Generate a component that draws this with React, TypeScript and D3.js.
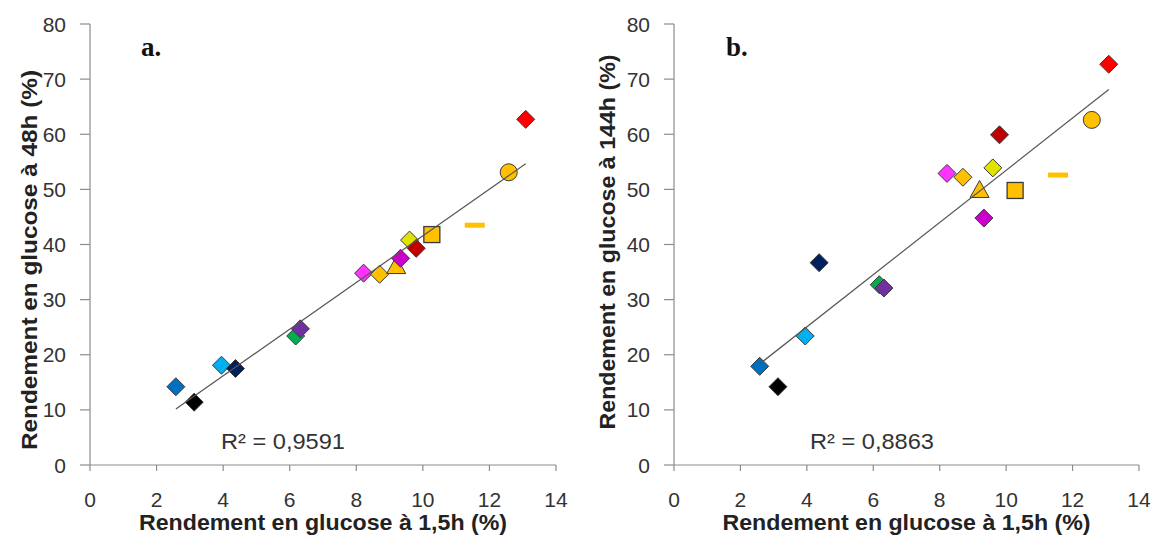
import React from "react";
import * as d3 from "d3";

// ---- data ----
const samples = ["s1", "s2", "s3", "s4", "s5", "s6", "s7", "s8", "s9", "s10", "s11", "s12", "s13", "s14", "s15", "s16"];
const glucose15h = [2.58, 3.13, 3.95, 4.37, 6.18, 6.32, 8.22, 8.7, 9.2, 9.33, 9.6, 9.8, 10.27, 11.56, 12.58, 13.09];
const glucose48h = [14.2, 11.4, 18.1, 17.5, 23.4, 24.7, 34.8, 34.6, 36.0, 37.5, 40.8, 39.3, 41.8, 43.5, 53.1, 62.7];
const glucose144h = [17.9, 14.2, 23.4, 36.7, 32.7, 32.1, 52.9, 52.2, 49.8, 44.8, 53.9, 59.9, 49.8, 52.6, 62.6, 72.7];
const r2Labels = ["R² = 0,9591", "R² = 0,8863"];
const panelLetters = ["a.", "b."];
const yTitles = ["Rendement en glucose à 48h (%)", "Rendement en glucose à 144h (%)"];
const xTitle = "Rendement en glucose à 1,5h (%)";
const xTicks = [0, 2, 4, 6, 8, 10, 12, 14];
const yTicks = [0, 10, 20, 30, 40, 50, 60, 70, 80];

// ---- styles ----
const markerColors = ["#0070C0", "#000000", "#00B0F0", "#002060", "#00B050", "#7030A0", "#FF33FF", "#FFC000", "#FFC000", "#CC00CC", "#E2E200", "#C00000", "#FFC000", "#FFC000", "#FFC000", "#FF0000"];
const markerShapes = ["diamond", "diamond", "diamond", "diamond", "diamond", "diamond", "diamond", "diamond", "triangle", "diamond", "diamond", "diamond", "square", "dash", "circle", "diamond"];

const FONT = "'Liberation Sans', Arial, sans-serif";
const AXIS = "#8c8c8c";

type PanelProps = {
  left: number; right: number; top: number; bottom: number;
  ys: number[]; letter: string; letterX: number; yTitle: string; yTitleX: number; yTitleY: number; yTitleLen: number;
  r2: string; r2X: number;
};

function linreg(xs: number[], ys: number[]) {
  const mx = d3.mean(xs)!, my = d3.mean(ys)!;
  let sxy = 0, sxx = 0;
  xs.forEach((x, i) => { sxy += (x - mx) * (ys[i] - my); sxx += (x - mx) * (x - mx); });
  const b = sxy / sxx;
  return { b, a: my - b * mx };
}

function Marker({ shape, cx, cy, fill }: { shape: string; cx: number; cy: number; fill: string }) {
  const stroke = "#3a3a3a";
  if (shape === "diamond") {
    const r = 9;
    return <path d={`M${cx},${cy - r}L${cx + r},${cy}L${cx},${cy + r}L${cx - r},${cy}Z`} fill={fill} stroke={stroke} strokeWidth={1} />;
  }
  if (shape === "square") {
    const s = 16;
    return <rect x={cx - s / 2} y={cy - s / 2} width={s} height={s} fill={fill} stroke={stroke} strokeWidth={1.3} />;
  }
  if (shape === "circle") {
    return <circle cx={cx} cy={cy} r={8.5} fill={fill} stroke={stroke} strokeWidth={1} />;
  }
  if (shape === "triangle") {
    return <path d={`M${cx},${cy - 10}L${cx + 9.5},${cy + 7}L${cx - 9.5},${cy + 7}Z`} fill={fill} stroke={stroke} strokeWidth={1} />;
  }
  // dash
  return <rect x={cx - 10} y={cy - 2.5} width={20} height={5} fill={fill} />;
}

function Panel(p: PanelProps) {
  const x = d3.scaleLinear().domain([0, 14]).range([p.left, p.right]);
  const y = d3.scaleLinear().domain([0, 80]).range([p.bottom, p.top]);
  const { a, b } = linreg(glucose15h, p.ys);
  const [x0, x1] = d3.extent(glucose15h) as [number, number];
  const line = d3.line<number>().x((d) => x(d)).y((d) => y(a + b * d));
  return (
    <g>
      {/* axes */}
      <line x1={x(0)} x2={x(0)} y1={y(0)} y2={y(80)} stroke={AXIS} strokeWidth={1.2} />
      <line x1={x(0)} x2={x(14)} y1={y(0)} y2={y(0)} stroke={AXIS} strokeWidth={1.2} />
      {yTicks.map((t) => (
        <g key={"y" + t}>
          <line x1={x(0) - 10} x2={x(0)} y1={y(t)} y2={y(t)} stroke={AXIS} strokeWidth={1.2} />
          <text x={x(0) - 24} y={y(t)} dy="0.36em" textAnchor="end" fontFamily={FONT} fontSize={21} fill="#333">{t}</text>
        </g>
      ))}
      {xTicks.map((t) => (
        <g key={"x" + t}>
          <line x1={x(t)} x2={x(t)} y1={y(0)} y2={y(0) + 6} stroke={AXIS} strokeWidth={1.2} />
          <text x={x(t)} y={507} textAnchor="middle" fontFamily={FONT} fontSize={21} fill="#333">{t}</text>
        </g>
      ))}
      {/* markers */}
      {glucose15h.map((xv, i) => (
        <Marker key={samples[i]} shape={markerShapes[i]} cx={x(xv)} cy={y(p.ys[i])} fill={markerColors[i]} />
      ))}
      {/* trend line */}
      <path d={line([x0, x1])!} fill="none" stroke="#555" strokeWidth={1.2} />
      <text x={p.r2X} y={449} fontFamily={FONT} fontSize={22} fill="#333" textLength={124} lengthAdjust="spacingAndGlyphs">{p.r2}</text>
      <text x={p.letterX} y={56} fontFamily="'Liberation Serif', 'DejaVu Serif', serif" fontWeight="bold" fontSize={27} fill="#111">{p.letter}</text>
      <text x={(p.left + p.right) / 2} y={530} textAnchor="middle" fontFamily={FONT} fontWeight="bold" fontSize={22} fill="#222" textLength={368} lengthAdjust="spacingAndGlyphs">{xTitle}</text>
      <text transform={`translate(${p.yTitleX},${p.yTitleY}) rotate(-90)`} textAnchor="middle" fontFamily={FONT} fontWeight="bold" fontSize={22} fill="#222" textLength={p.yTitleLen} lengthAdjust="spacingAndGlyphs">{p.yTitle}</text>
    </g>
  );
}

export default function App() {
  return (
    <svg width={1154} height={535} style={{ position: "absolute", left: 0, top: 0, background: "#fff" }}>
      <rect width={1154} height={535} fill="#fff" />
      <Panel left={90} right={556} top={24} bottom={465} ys={glucose48h} letter={panelLetters[0]} letterX={141}
        yTitle={yTitles[0]} yTitleX={37} yTitleY={260} yTitleLen={380} r2={r2Labels[0]} r2X={221} />
      <Panel left={674} right={1139} top={24} bottom={465} ys={glucose144h} letter={panelLetters[1]} letterX={726}
        yTitle={yTitles[1]} yTitleX={615} yTitleY={242} yTitleLen={375} r2={r2Labels[1]} r2X={810} />
    </svg>
  );
}
